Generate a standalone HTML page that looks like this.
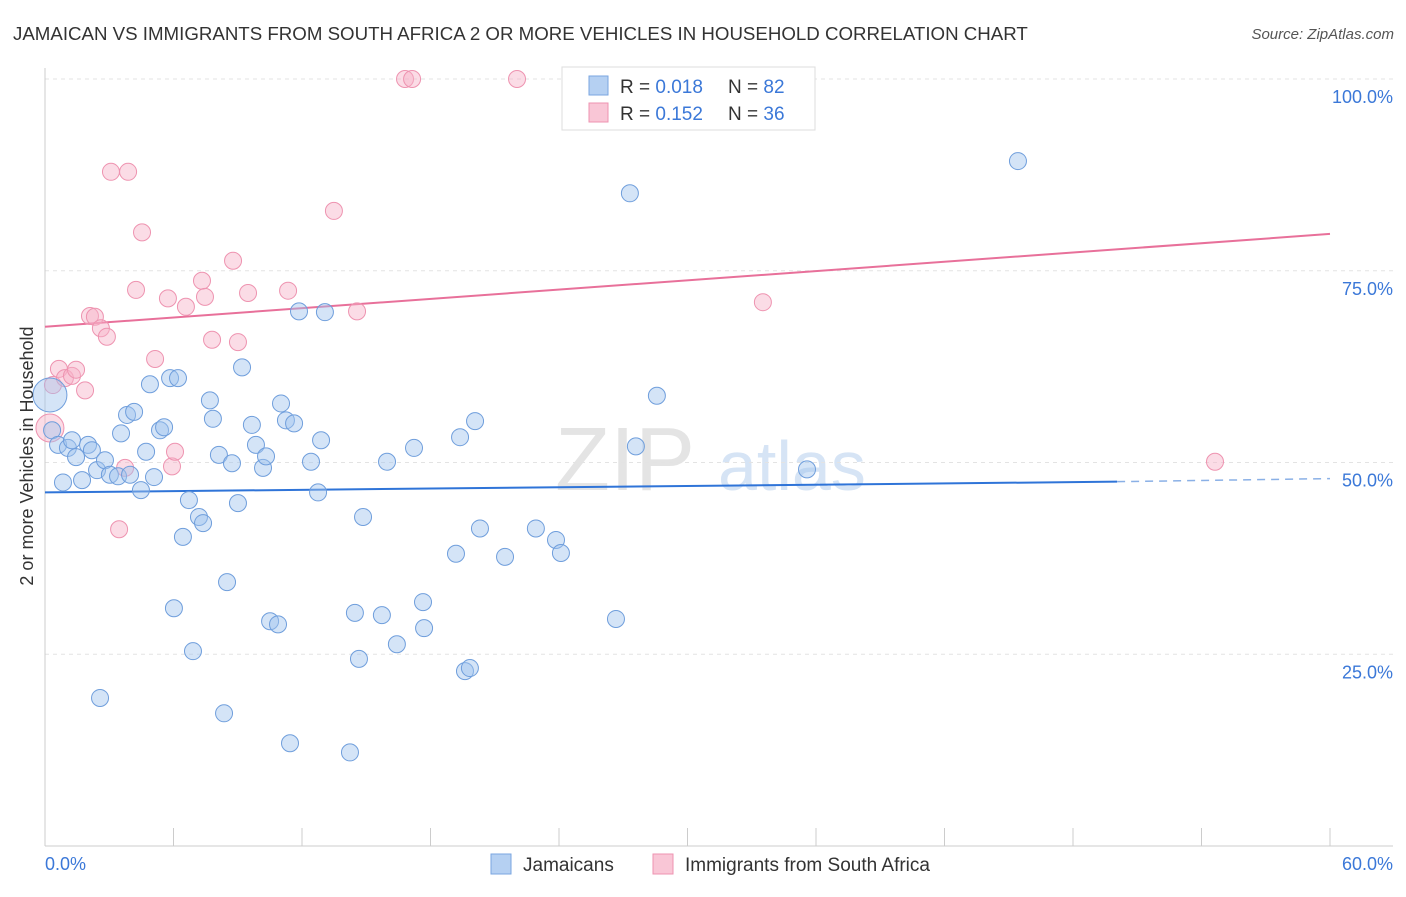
<!DOCTYPE html>
<html><head><meta charset="utf-8"><style>
body{margin:0;background:#fff;font-family:"Liberation Sans",sans-serif;}
svg text{font-family:"Liberation Sans",sans-serif;}
</style></head><body>
<svg id="chart" width="1406" height="892" xmlns="http://www.w3.org/2000/svg">
<text x="13" y="40" font-size="18.7" fill="#333">JAMAICAN VS IMMIGRANTS FROM SOUTH AFRICA 2 OR MORE VEHICLES IN HOUSEHOLD CORRELATION CHART</text>
<text x="1394" y="39" font-size="15" fill="#555" font-style="italic" text-anchor="end">Source: ZipAtlas.com</text>
<text x="555" y="490" font-size="90" fill="#e4e4e4" font-family="Liberation Serif">ZIP</text>
<text x="718" y="490" font-size="70" fill="#d6e4f5">atlas</text>
<g id="grid"></g><g id="axes"></g><g id="trends"></g><g id="pts"></g>
<text transform="translate(33,456) rotate(-90)" font-size="18" fill="#333" text-anchor="middle">2 or more Vehicles in Household</text>
<text x="45" y="870" font-size="18" fill="#3b78d8">0.0%</text>
<text x="1393" y="870" font-size="18" fill="#3b78d8" text-anchor="end">60.0%</text>
<g>
<rect x="562" y="67" width="253" height="63" fill="#fff" stroke="#ddd"/>
<rect x="589" y="76" width="19" height="19" fill="#b5d0f2" stroke="#7aa6e0"/>
<rect x="589" y="103" width="19" height="19" fill="#f9c6d6" stroke="#ee93b0"/>
<text x="620" y="93" font-size="19" fill="#333">R = <tspan fill="#3b78d8">0.018</tspan></text>
<text x="728" y="93" font-size="19" fill="#333">N = <tspan fill="#3b78d8">82</tspan></text>
<text x="620" y="120" font-size="19" fill="#333">R = <tspan fill="#3b78d8">0.152</tspan></text>
<text x="728" y="120" font-size="19" fill="#333">N = <tspan fill="#3b78d8">36</tspan></text>
</g>
<g>
<rect x="491" y="854" width="20" height="20" fill="#b5d0f2" stroke="#7aa6e0"/>
<text x="523" y="871" font-size="19" fill="#333">Jamaicans</text>
<rect x="653" y="854" width="20" height="20" fill="#f9c6d6" stroke="#ee93b0"/>
<text x="685" y="871" font-size="19" fill="#333">Immigrants from South Africa</text>
</g>
</svg>
<script>
const blueX=[0.23,0.33,0.61,0.84,1.07,1.26,1.45,1.73,2.01,2.19,2.43,2.57,2.80,3.03,3.41,3.55,3.83,3.97,4.16,4.48,4.72,4.90,5.09,5.37,5.56,5.84,6.21,6.02,6.44,6.72,6.91,7.19,7.38,7.70,7.84,8.12,8.36,8.50,8.73,9.01,9.20,9.66,9.85,10.18,10.32,10.51,10.88,11.02,11.25,11.44,11.63,11.86,12.42,12.75,12.89,13.07,14.24,14.47,14.66,14.85,15.73,15.97,16.43,17.23,17.65,17.70,19.19,19.38,19.61,19.84,20.08,20.31,21.48,22.92,23.86,24.09,26.66,27.31,27.59,28.57,35.58,45.43];
const blueY=[58.8,54.2,52.3,47.4,51.9,52.9,50.7,47.7,52.3,51.6,49.0,19.3,50.3,48.4,48.2,53.8,56.2,48.4,56.6,46.4,51.4,60.2,48.1,54.2,54.6,61.0,61.0,31.0,40.3,45.1,25.4,42.9,42.1,58.1,55.7,51.0,17.3,34.4,49.9,44.7,62.4,54.9,52.3,49.3,50.8,29.3,28.9,57.7,55.5,13.4,55.1,69.7,50.1,46.1,52.9,69.6,12.2,30.4,24.4,42.9,30.1,50.1,26.3,51.9,31.8,28.4,38.1,53.3,22.8,23.2,55.4,41.4,37.7,41.4,39.9,38.2,29.6,85.1,52.1,58.7,49.1,89.3];
const pinkX=[0.23,0.37,0.65,0.93,1.26,1.45,1.87,2.10,2.33,2.61,2.89,3.08,3.46,3.74,3.88,4.25,4.53,5.14,5.74,5.93,6.07,6.58,7.33,7.47,7.80,8.78,9.01,9.48,11.35,13.49,14.57,16.81,17.14,22.04,33.52,54.63];
const pinkY=[54.5,60.1,62.2,61.0,61.3,62.1,59.4,69.1,69.0,67.5,66.4,87.9,41.3,49.3,87.9,72.5,80.0,63.5,71.4,49.5,51.4,70.3,73.7,71.6,66.0,76.3,65.7,72.1,72.4,82.8,69.7,100,100,100,70.9,50.1];
const blueTrend=[46.1,47.5,47.9];
const pinkTrend=[67.7,79.8];
const yTicks=[25,50,75,100];
const NS="http://www.w3.org/2000/svg";
const sx=v=>45+v/60*1285, sy=v=>846-v/100*767;
function mk(t,a,p){const e=document.createElementNS(NS,t);for(const k in a)e.setAttribute(k,a[k]);p.appendChild(e);return e;}
const grid=document.getElementById('grid'),axes=document.getElementById('axes'),tr=document.getElementById('trends'),pts=document.getElementById('pts');
yTicks.forEach(v=>{
 const l=mk('line',{x1:45,x2:1393,y1:sy(v),y2:sy(v),stroke:'#e3e3e3','stroke-dasharray':'4,4'},grid);
 
 
 const t=mk('text',{x:1393,y:sy(v)+24,'font-size':18,fill:'#3b78d8','text-anchor':'end'},grid);
 t.textContent=v.toFixed(1)+'%';
 
 
});
mk('line',{x1:45,x2:45,y1:68,y2:846,stroke:'#ccc'},axes);
mk('line',{x1:45,x2:1393,y1:846,y2:846,stroke:'#ccc'},axes);
for(let i=0;i<=10;i++){const x=sx(i*6);const t=mk('line',{x1:x,x2:x,y1:828,y2:846,stroke:'#ccc'},axes);
 
 }
const bl=mk('line',{x1:sx(0),y1:sy(blueTrend[0]),x2:sx(50.06),y2:sy(blueTrend[1]),stroke:'#2f74d8','stroke-width':2},tr);


const bd=mk('line',{x1:sx(50.06),y1:sy(blueTrend[1]),x2:sx(60),y2:sy(blueTrend[2]),stroke:'#8ab0e6','stroke-width':1.5,'stroke-dasharray':'8,6'},tr);


const pl=mk('line',{x1:sx(0),y1:sy(pinkTrend[0]),x2:sx(60),y2:sy(pinkTrend[1]),stroke:'#e8709a','stroke-width':2},tr);


pinkX.forEach((x,i)=>{const c=mk('circle',{cx:sx(x),cy:sy(pinkY[i]),r:i==0?14:8.5,fill:'rgba(246,178,200,0.45)',stroke:'#ee93b0','stroke-width':1},pts);
 
 });
blueX.forEach((x,i)=>{const c=mk('circle',{cx:sx(x),cy:sy(blueY[i]),r:i==0?17:8.5,fill:'rgba(160,195,238,0.45)',stroke:'#6f9edc','stroke-width':1},pts);
 
 });
</script>
</body></html>
